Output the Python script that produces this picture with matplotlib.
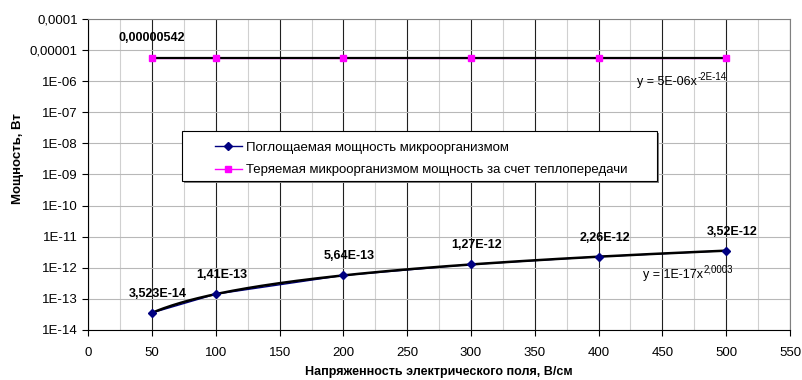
import numpy as np
import matplotlib.pyplot as plt
from matplotlib.patches import Rectangle
from matplotlib.ticker import FixedLocator, LogLocator, NullFormatter

plt.rcParams['font.family'] = ['Liberation Sans', 'DejaVu Sans']

# --- data ---
field = [50, 100, 200, 300, 400, 500]                        # В/см
absorbed = [3.523e-14, 1.41e-13, 5.64e-13, 1.27e-12, 2.26e-12, 3.52e-12]
lost = [5.42e-6] * 6
absorbed_labels = ["3,523E-14", "1,41E-13", "5,64E-13", "1,27E-12", "2,26E-12", "3,52E-12"]
lost_label = "0,00000542"
y_ticks = [1e-14, 1e-13, 1e-12, 1e-11, 1e-10, 1e-9, 1e-8, 1e-7, 1e-6, 1e-5, 1e-4]
y_tick_labels = ["1E-14", "1E-13", "1E-12", "1E-11", "1E-10", "1E-09", "1E-08",
                 "1E-07", "1E-06", "0,00001", "0,0001"]
x_ticks = list(range(0, 551, 50))
legend_labels = ["Поглощаемая мощность микроорганизмом",
                 "Теряемая микроорганизмом мощность за счет теплопередачи"]


def power_fit(x, y):
    # Excel-style power trendline: fit in log-log space
    b, ln_a = np.polyfit(np.log(x), np.log(y), 1)
    return np.exp(ln_a), b


def equation(ax, x, y, base, sup):
    # "y = ax^b" with a plain-hyphen superscript
    t = ax.text(x, y, base, transform=ax.transAxes, fontsize=9, ha='left', va='center')
    fig.canvas.draw()
    bb = t.get_window_extent()
    ax.annotate(sup, (bb.x1, bb.y1), xycoords='figure pixels', xytext=(0.5, -1),
                textcoords='offset pixels', fontsize=7, ha='left', va='center')


fig = plt.figure(figsize=(8.02, 3.8), dpi=100)
ax = fig.add_axes([0.11, 0.132, 0.875, 0.818])

ax.set_yscale('log')
ax.set_xlim(0, 550)
ax.set_ylim(1e-14, 1e-4)

# grid
ax.xaxis.set_minor_locator(FixedLocator(np.arange(25, 550, 50)))
ax.yaxis.set_minor_locator(LogLocator(base=10, subs=np.arange(2, 10)))
ax.yaxis.set_minor_formatter(NullFormatter())
ax.grid(True, which='minor', axis='x', color='#d0d0d0', lw=0.8)
ax.grid(True, which='minor', axis='y', color='#d4d4d4', lw=0.7)
ax.grid(True, which='major', axis='y', color='#b8b8b8', lw=0.8)
ax.grid(True, which='major', axis='x', color='#202020', lw=0.8)
ax.set_axisbelow(True)
ax.tick_params(which='minor', length=0)

# series + power trendlines
xs = np.linspace(field[0], field[-1], 200)
a1, b1 = power_fit(field, absorbed)
a2, b2 = power_fit(field, lost)

ax.plot(field, lost, color='#ff00ff', lw=1.0, zorder=3)
ax.plot(xs, a2 * xs ** b2, color='black', lw=1.6, zorder=4)
ax.plot(field, lost, ls='none', marker='s', ms=5, color='#ff00ff', zorder=5)

ax.plot(field, absorbed, color='#000080', lw=1.0, zorder=3)
ax.plot(xs, a1 * xs ** b1, color='black', lw=1.8, zorder=4)
ax.plot(field, absorbed, ls='none', marker='D', ms=4, color='#000080', zorder=5)

# data labels
for x, y, lab in zip(field, absorbed, absorbed_labels):
    ax.annotate(lab, (x, y), xytext=(6, 19), textcoords='offset pixels',
                ha='center', va='center', fontsize=9, fontweight='bold')
ax.annotate(lost_label, (field[0], lost[0]), xytext=(0, 20), textcoords='offset pixels',
            ha='center', va='center', fontsize=9, fontweight='bold')

# axes & ticks
ax.set_xticks(x_ticks)
ax.set_yticks(y_ticks)
ax.set_yticklabels(y_tick_labels)
ax.tick_params(which='major', labelsize=9.5, length=4, direction='out', color='black')
ax.tick_params(axis='x', pad=8)
for side in ('top', 'right'):
    ax.spines[side].set_color('#808080')
for side in ('left', 'bottom'):
    ax.spines[side].set_color('black')

ax.set_xlabel("Напряженность электрического поля, В/см", fontsize=9, fontweight='bold')
ax.set_ylabel("Мощность, Вт", fontsize=9.5, fontweight='bold')
ax.xaxis.set_label_coords(0.5, -0.117)
ax.yaxis.set_label_coords(-0.092, 0.551)

# legend: box drawn separately to get Excel-like padding
h1, = ax.plot([], [], color='#000080', marker='D', ms=4, lw=1.0)
h2, = ax.plot([], [], color='#ff00ff', marker='s', ms=5, lw=1.0)
shadow = Rectangle((0.1365, 0.473), 0.6765, 0.1608, transform=ax.transAxes,
                   facecolor='#808080', edgecolor='none', zorder=9)
box = Rectangle((0.1339, 0.4791), 0.6765, 0.1608, transform=ax.transAxes,
                facecolor='white', edgecolor='black', lw=0.8, zorder=9.5)
ax.add_patch(shadow)
ax.add_patch(box)
leg = ax.legend([h1, h2], legend_labels, loc='upper left',
                bbox_to_anchor=(0.18, 0.605), fontsize=9.5, frameon=False,
                borderpad=0, borderaxespad=0, labelspacing=0.75,
                handlelength=2.1, handletextpad=0.3)
leg.set_zorder(10)

# trendline equations
equation(ax, 0.782, 0.797, "y = 5E-06x", "-2E-14")
equation(ax, 0.79, 0.177, "y = 1E-17x", "2,0003")

fig.savefig("out.png", dpi=100)
